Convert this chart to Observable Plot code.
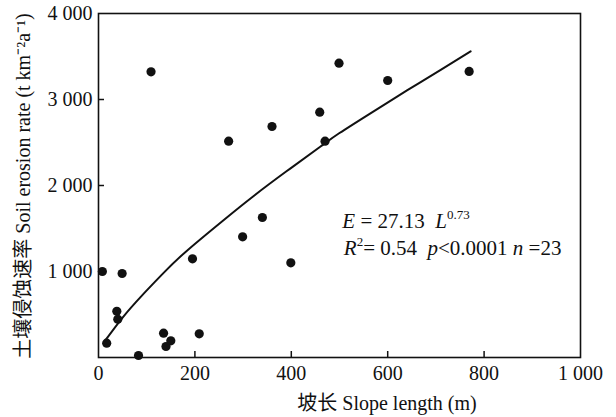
<!DOCTYPE html>
<html>
<head>
<meta charset="utf-8">
<script src="https://cdn.jsdelivr.net/npm/d3@7"></script>
<script src="https://cdn.jsdelivr.net/npm/@observablehq/plot@0.6"></script>
<style>
  html, body { margin: 0; padding: 0; background: #fff; }
  svg text { font-family: "Liberation Serif", "Noto Sans CJK SC", serif; }
</style>
</head>
<body>
<div id="chart"></div>
<script>
// Observed points: slope length (m) vs soil erosion rate (t km-2 a-1)
const slopeLength = [8, 17, 38, 40, 49, 83, 109, 135, 140, 150, 195, 209, 270, 299, 340, 360, 399, 459, 470, 499, 600, 769];
const erosionRate = [1000, 166, 538, 445, 977, 23, 3322, 283, 128, 194, 1147, 275, 2515, 1403, 1628, 2686, 1101, 2853, 2515, 3422, 3221, 3326];

// Fitted curve
const fitLength = [14, 50, 90, 130, 180, 260, 320, 390, 460, 500, 570, 640, 710, 772];
const fitRate   = [198, 465, 720, 955, 1225, 1600, 1870, 2165, 2450, 2610, 2860, 3105, 3345, 3560];

const xTicks = [0, 200, 400, 600, 800, 1000];
const yTicks = [1000, 2000, 3000, 4000];

const xLabel = "坡长 Slope length (m)";
const yLabel = "土壤侵蚀速率 Soil erosion rate (t km⁻²a⁻¹)";

const points = slopeLength.map((x, i) => ({x, y: erosionRate[i]}));
const fit = fitLength.map((x, i) => ({x, y: fitRate[i]}));

const fmt = d => d3.format(",")(d).replace(/,/g, " ");

const chart = Plot.plot({
  width: 616,
  height: 417,
  marginLeft: 98,
  marginRight: 36,
  marginTop: 13,
  marginBottom: 60,
  style: {fontFamily: '"Liberation Serif", "Noto Sans CJK SC", serif', fontSize: "20px", background: "#fff", color: "#111"},
  x: {domain: [0, 1000]},
  y: {domain: [0, 4000]},
  marks: [
    Plot.axisX({ticks: xTicks.slice(1, 5), tickSize: -6, tickFormat: () => "", label: null, strokeWidth: 1.5}),
    Plot.axisX({ticks: xTicks, tickSize: 0, tickPadding: 8, tickFormat: fmt, label: null, fontSize: 20, fill: "#111"}),
    Plot.axisY({ticks: yTicks.slice(0, 3), tickSize: -6, tickFormat: () => "", label: null, strokeWidth: 1.5}),
    Plot.axisY({ticks: yTicks, tickSize: 0, tickPadding: 6, tickFormat: fmt, label: null, fontSize: 20, fill: "#111"}),
    Plot.line(fit, {x: "x", y: "y", curve: "natural", stroke: "#111", strokeWidth: 2}),
    Plot.dot(points, {x: "x", y: "y", r: 4.6, fill: "#111", stroke: "none"}),
    Plot.frame({stroke: "#111", strokeWidth: 1.6})
  ]
});

document.getElementById("chart").appendChild(chart);

const svg = d3.select(chart);
const sx = chart.scale("x"), sy = chart.scale("y");
const ff = '"Liberation Serif", "Noto Sans CJK SC", serif';

// Axis titles
svg.append("text")
  .attr("x", 387).attr("y", 410)
  .attr("text-anchor", "middle")
  .attr("font-size", 20).attr("fill", "#111").attr("font-family", ff)
  .text(xLabel);

svg.append("text")
  .attr("transform", "translate(30,186) rotate(-90)")
  .attr("text-anchor", "middle")
  .attr("font-size", 20).attr("fill", "#111").attr("font-family", ff)
  .text(yLabel);

// Equation annotation
const t1 = svg.append("text")
  .attr("x", sx.apply(507)).attr("y", sy.apply(1500))
  .attr("text-anchor", "start")
  .attr("font-size", 21).attr("fill", "#111").attr("font-family", ff);
t1.append("tspan").attr("font-style", "italic").text("E");
t1.append("tspan").text(" = 27.13  ");
t1.append("tspan").attr("font-style", "italic").text("L");
t1.append("tspan").attr("font-size", 13).attr("dy", -9).text("0.73");

const t2 = svg.append("text")
  .attr("x", sx.apply(510)).attr("y", sy.apply(1186))
  .attr("text-anchor", "start")
  .attr("font-size", 21).attr("fill", "#111").attr("font-family", ff);
t2.append("tspan").attr("font-style", "italic").text("R");
t2.append("tspan").attr("font-size", 13).attr("dy", -9).text("2");
t2.append("tspan").attr("dy", 9).text("= 0.54  ");
t2.append("tspan").attr("font-style", "italic").text("p");
t2.append("tspan").text("<0.0001 ");
t2.append("tspan").attr("font-style", "italic").text("n");
t2.append("tspan").text(" =23");
</script>
</body>
</html>
